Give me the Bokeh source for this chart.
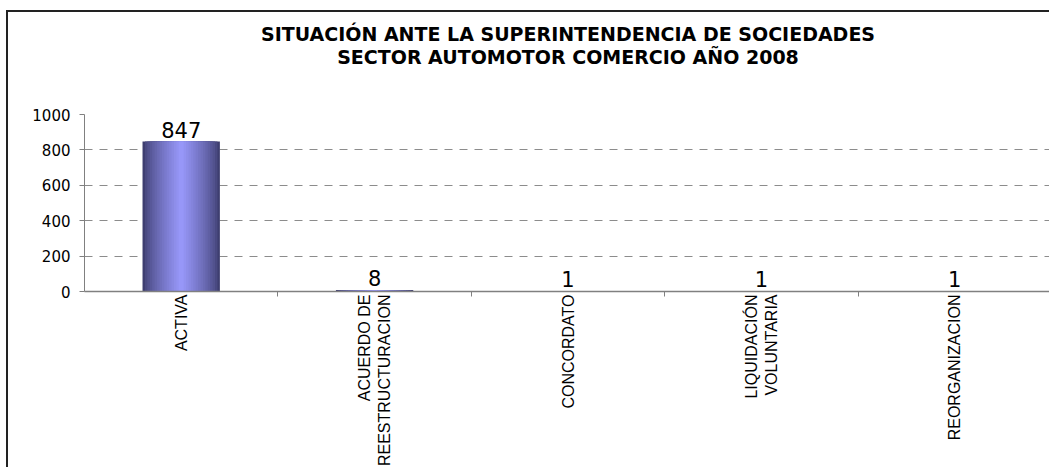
import math
from bokeh.plotting import figure
from bokeh.models import Range1d, FixedTicker, Title
from bokeh.core.properties import value
from bokeh.embed import file_html
from bokeh.resources import INLINE

# ---- data ----
categories = ["ACTIVA", "ACUERDO DE\nREESTRUCTURACION", "CONCORDATO",
              "LIQUIDACIÓN\nVOLUNTARIA", "REORGANIZACION"]
counts = [847, 8, 1, 1, 1]
y_ticks = [0, 200, 400, 600, 800, 1000]
title_lines = ["SITUACIÓN ANTE LA SUPERINTENDENCIA DE SOCIEDADES",
               "SECTOR AUTOMOTOR COMERCIO AÑO 2008"]

idx = list(range(len(categories)))

p = figure(width=1043, height=457, output_backend="svg", toolbar_location=None,
           x_range=Range1d(-0.5, len(categories) - 0.5),
           y_range=Range1d(y_ticks[0], y_ticks[-1]),
           min_border_left=76, min_border_right=0,
           min_border_top=102, min_border_bottom=177)
p.styles = {"border-left": "2px solid #222222", "border-top": "2px solid #222222",
            "margin-top": "10px", "margin-left": "6px"}
p.outline_line_color = None
p.background_fill_color = "white"
p.border_fill_color = "white"

# title: spacer, then two centred lines (later additions sit further up)
def make_title(txt, standoff):
    return Title(text=txt, align="center",
                 text_font="DejaVu Sans",
                 text_font_style="bold", text_font_size="19px",
                 text_color="black", offset=-10, standoff=standoff)

p.add_layout(make_title(" ", 23), "above")
p.add_layout(make_title(title_lines[1], 0), "above")
p.add_layout(make_title(title_lines[0], -2), "above")

# gradient-like bars: nested bars of decreasing width, darker edges
edge = (62, 62, 112)
mid = (155, 155, 255)
N = 16
bar_w = 0.40
for k in range(N):
    r = 1 - k / N
    t = (1 - r) ** 0.75
    col = "#%02x%02x%02x" % tuple(int(round(e + (m - e) * t)) for e, m in zip(edge, mid))
    p.vbar(x=idx, top=counts, bottom=0, width=bar_w * r, fill_color=col, line_color=None)

# value labels
p.text(x=idx, y=counts, text=[str(c) for c in counts], text_align="center",
       text_baseline="alphabetic", y_offset=-12,
       text_font=value("DejaVu Sans"), text_font_size="21px", text_color="black")

# grid
p.xgrid.visible = False
p.ygrid.ticker = FixedTicker(ticks=y_ticks)
p.ygrid.grid_line_color = "#8c8c8c"
p.ygrid.grid_line_dash = "8 7"
p.ygrid.grid_line_width = 1

# x axis
xa = p.xaxis[0]
xa.ticker = FixedTicker(ticks=idx, minor_ticks=[i + 0.5 for i in idx[:-1]])
xa.major_label_overrides = {i: c for i, c in zip(idx, categories)}
xa.major_label_orientation = math.pi / 2
xa.major_tick_out = 0
xa.major_tick_in = 0
xa.major_tick_line_color = None
xa.minor_tick_out = 5
xa.minor_tick_in = 0
xa.minor_tick_line_color = "#808080"
xa.axis_line_color = "#808080"
xa.axis_line_width = 1.5
xa.major_label_text_font = "Liberation Sans"
xa.major_label_text_font_size = "16px"
xa.major_label_text_color = "black"
xa.major_label_standoff = -2

# y axis
ya = p.yaxis[0]
ya.ticker = FixedTicker(ticks=y_ticks)
ya.major_tick_out = 5
ya.major_tick_in = 0
ya.minor_tick_line_color = None
ya.major_tick_line_color = "#808080"
ya.axis_line_color = "#808080"
ya.major_label_text_font = "DejaVu Sans"
ya.major_label_text_font_size = "15px"
ya.major_label_text_color = "black"
ya.major_label_standoff = 9

open("out.html", "w").write(file_html(p, INLINE))
